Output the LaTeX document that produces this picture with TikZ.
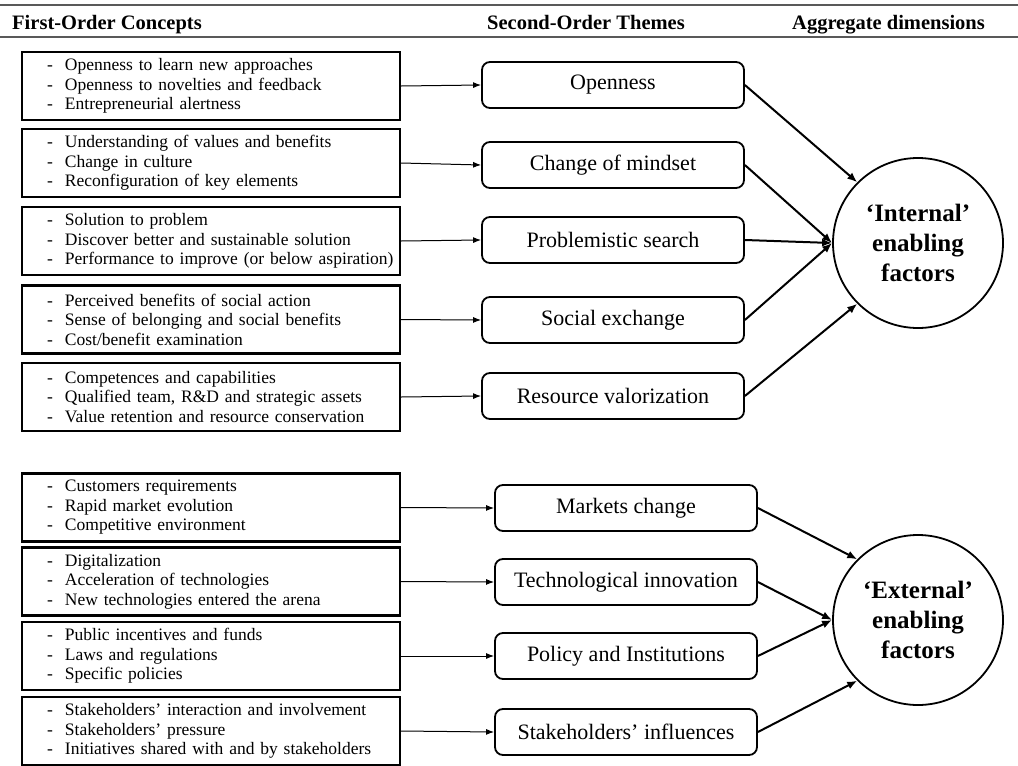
\documentclass[tikz,border=0pt]{standalone}
\usepackage{fontspec}
\setmainfont{Liberation Serif}
\usepackage{tikz}
\usetikzlibrary{arrows.meta}
\newcommand{\dsh}{\hspace*{21pt}\makebox[18pt][l]{-}}
\newcommand{\lsize}{\fontsize{17.5pt}{19.5pt}\selectfont}

\begin{document}
\begin{tikzpicture}[x=1pt, y=-1pt,
  concept/.style={draw, line width=2.2pt, rectangle, minimum height=68pt, text width=370pt, inner xsep=4pt, align=left, font=\lsize},
  theme/.style={draw, line width=1.8pt, rounded corners=8pt, minimum width=262pt, minimum height=46pt, font=\fontsize{22pt}{26pt}\selectfont},
  dimension/.style={draw, line width=1.8pt, circle, minimum size=170pt, inner sep=0pt, align=center, font=\fontsize{25pt}{30pt}\selectfont\bfseries},
  heading/.style={anchor=base west, inner sep=0pt, font=\fontsize{20.5pt}{24pt}\selectfont\bfseries},
  feed/.style={-{Latex[length=8pt,width=6pt]}, line width=1pt},
  link/.style={-{Latex[length=10pt,width=8pt]}, line width=2pt}]
\useasboundingbox (0,0) rectangle (1018,766);
\draw[line width=2pt, black!65] (0,5) -- (1018,5);
\draw[line width=2pt, black!65] (0,37) -- (1018,37);
\node[heading] (h1) at (12,29) {First-Order Concepts};
\node[heading] (h2) at (487,29) {Second-Order Themes};
\node[heading] (h3) at (792,29) {Aggregate dimensions};

\node[concept] (c1) at (211,86) {\dsh Openness to learn new approaches\\\dsh Openness to novelties and feedback\\\dsh Entrepreneurial alertness};
\node[concept] (c2) at (211,163) {\dsh Understanding of values and benefits\\\dsh Change in culture\\\dsh Reconfiguration of key elements};
\node[concept] (c3) at (211,241) {\dsh Solution to problem\\\dsh Discover better and sustainable solution\\\dsh Performance to improve (or below aspiration)};
\node[concept] (c4) at (211,319.5) {\dsh Perceived benefits of social action\\\dsh Sense of belonging and social benefits\\\dsh Cost/benefit examination};
\node[concept] (c5) at (211,397) {\dsh Competences and capabilities\\\dsh Qualified team, R\&D and strategic assets\\\dsh Value retention and resource conservation};
\node[concept] (c6) at (211,507.5) {\dsh Customers requirements\\\dsh Rapid market evolution\\\dsh Competitive environment};
\node[concept] (c7) at (211,581.5) {\dsh Digitalization\\\dsh Acceleration of technologies\\\dsh New technologies entered the arena};
\node[concept] (c8) at (211,656) {\dsh Public incentives and funds\\\dsh Laws and regulations\\\dsh Specific policies};
\node[concept] (c9) at (211,731) {\dsh Stakeholders’ interaction and involvement\\\dsh Stakeholders’ pressure\\\dsh Initiatives shared with and by stakeholders};

\node[theme] (t1) at (613,85) {Openness};
\node[theme] (t2) at (613,165) {Change of mindset};
\node[theme] (t3) at (613,240) {Problemistic search};
\node[theme] (t4) at (613,320) {Social exchange};
\node[theme] (t5) at (613,396) {Resource valorization};
\node[theme] (t6) at (626,508) {Markets change};
\node[theme] (t7) at (626,582) {Technological innovation};
\node[theme] (t8) at (626,656) {Policy and Institutions};
\node[theme] (t9) at (626,732) {Stakeholders’ influences};

\node[dimension] (int) at (918,243) {‘Internal’\\enabling\\factors};
\node[dimension] (ext) at (918,620) {‘External’\\enabling\\factors};

\foreach \i in {1,...,9} \draw[feed] (c\i.east) -- (t\i.west);
\draw[link] (t1.east) -- (int.135);
\foreach \i in {2,3,4} \draw[link] (t\i.east) -- (int.west);
\draw[link] (t5.east) -- (int.225);
\draw[link] (t6.east) -- (ext.135);
\foreach \i in {7,8} \draw[link] (t\i.east) -- (ext.west);
\draw[link] (t9.east) -- (ext.225);
\end{tikzpicture}
\end{document}
